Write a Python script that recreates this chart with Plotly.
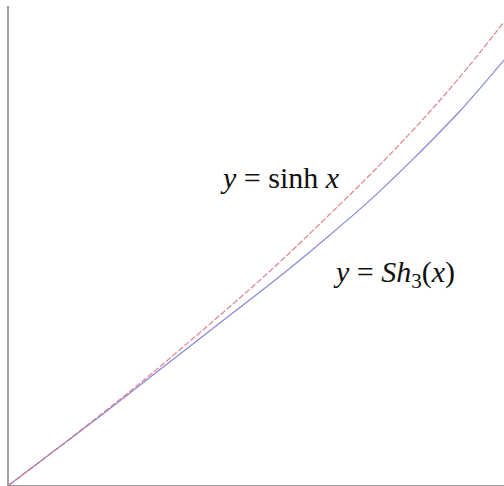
import plotly.graph_objects as go

# Sample points along each curve (x in the plotted units)
x_vals = [0.0, 0.1, 0.2, 0.3, 0.4, 0.5, 0.6, 0.7, 0.8, 0.9, 1.0, 1.1]
sinh_vals = [0.0, 0.098, 0.199, 0.303, 0.413, 0.525, 0.641, 0.765, 0.892, 1.027, 1.174, 1.336]
sh3_vals = [0.0, 0.098, 0.196, 0.297, 0.398, 0.499, 0.600, 0.707, 0.819, 0.943, 1.076, 1.226]

label_sinh = "<i>y</i> = sinh <i>x</i>"
label_sh3 = "<i>y</i> = <i>Sh</i><sub>3</sub>(<i>x</i>)"

fig = go.Figure()

fig.add_trace(go.Scatter(
    x=x_vals, y=sh3_vals, mode="lines", line_shape="spline",
    line=dict(color="rgba(110,110,205,0.8)", width=1.3),
    hoverinfo="skip", showlegend=False,
))
fig.add_trace(go.Scatter(
    x=x_vals, y=sinh_vals, mode="lines", line_shape="spline",
    line=dict(color="rgba(215,110,125,0.8)", width=1.3, dash="6px,2px"),
    hoverinfo="skip", showlegend=False,
))

serif = "Liberation Serif, Times New Roman, serif"
fig.add_annotation(
    text=label_sinh, xref="paper", yref="paper", x=0.422, y=0.643,
    xanchor="left", yanchor="middle", showarrow=False,
    font=dict(family=serif, size=30, color="#111111"),
)
fig.add_annotation(
    text=label_sh3, xref="paper", yref="paper", x=0.650, y=0.440,
    xanchor="left", yanchor="middle", showarrow=False,
    font=dict(family=serif, size=30, color="#111111"),
)

axis_common = dict(
    showgrid=False, zeroline=False, showticklabels=False, ticks="",
    showline=True, linecolor="#a0a0a0", linewidth=2,
)
fig.update_xaxes(range=[0, 1.1], **axis_common)
fig.update_yaxes(range=[0, 1.382], **axis_common)

fig.update_layout(
    width=504, height=486,
    margin=dict(l=9, r=0, t=6, b=1),
    paper_bgcolor="white", plot_bgcolor="white",
)

fig.write_html("out.html")
